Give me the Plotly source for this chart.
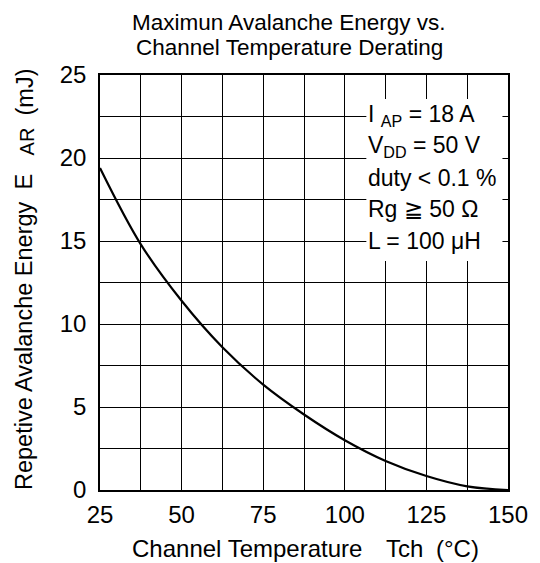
import plotly.graph_objects as go

# Data
tch = [25, 37.5, 50, 62.5, 75, 87.5, 100, 112.5, 125, 137.5, 150]
ear = [19.4, 14.8, 11.4, 8.6, 6.35, 4.55, 3.0, 1.75, 0.84, 0.22, 0.0]

x_tick_vals = [25, 50, 75, 100, 125, 150]
x_tick_labels = ["25", "50", "75", "100", "125", "150"]
y_tick_vals = [0, 5, 10, 15, 20, 25]
y_tick_labels = ["0", "5", "10", "15", "20", "25"]

title_lines = ["Maximun Avalanche Energy vs.", "Channel Temperature Derating"]
x_title_parts = ["Channel Temperature", "Tch", "(°C)"]
y_title_parts = ["Repetive Avalanche Energy", "E", "AR", "(mJ)"]
cond_lines = [
    "I\u00a0<sub>AP</sub> = 18 A",
    "V<sub>DD</sub> = 50 V",
    "duty < 0.1 %",
    "Rg \u2267 50 \u03a9",
    "L = 100 \u03bcH",
]

FONT = "Liberation Sans, Arial, sans-serif"

fig = go.Figure()
fig.add_trace(go.Scatter(
    x=tch, y=ear, mode="lines",
    line=dict(color="black", width=2.2, shape="spline", smoothing=1.0),
    hoverinfo="skip", showlegend=False,
))

W, H = 540, 563
L, R, T, B = 100, 24, 75, 73
pw, ph = W - L - R, H - T - B

def px_x(p):
    return (p - L) / pw

def px_y(p):
    return (H - B - p) / ph

axis_common = dict(
    showline=True, mirror=True, linecolor="black", linewidth=1.5,
    showgrid=True, gridcolor="black", gridwidth=1,
    zeroline=False, ticks="",
    tickfont=dict(family=FONT, size=24, color="black"),
)

fig.update_xaxes(
    range=[25, 150], tickmode="array", tickvals=x_tick_vals, ticktext=x_tick_labels,
    ticklabelstandoff=2,
    minor=dict(dtick=12.5, tick0=25, showgrid=True, gridcolor="black", gridwidth=1, ticks=""),
    **axis_common,
)
fig.update_yaxes(
    range=[0, 25], tickmode="array", tickvals=y_tick_vals, ticktext=y_tick_labels,
    ticklabelstandoff=7,
    minor=dict(dtick=2.5, tick0=0, showgrid=True, gridcolor="black", gridwidth=1, ticks=""),
    **axis_common,
)

# white block behind the condition text
fig.add_shape(type="rect", xref="x", yref="y", x0=106.6, x1=148.3, y0=13.8, y1=23.55,
              fillcolor="white", line=dict(width=0), layer="above")

def ann(text, x, y, size, angle=0, xanchor="center"):
    return dict(text=text, xref="paper", yref="paper", x=px_x(x), y=px_y(y),
                xanchor=xanchor, yanchor="middle", showarrow=False, textangle=angle,
                font=dict(family=FONT, size=size, color="black"))

annotations = []
for line, yc in zip(title_lines, [23, 47.5]):
    annotations.append(ann(line, 293, yc, 22.5))
for line, yc in zip(cond_lines, [115, 146.5, 178, 209, 241]):
    annotations.append(ann(line, 371, yc, 23, xanchor="left"))

# x-axis title pieces (centre x positions in pixels)
for part, xc in zip(x_title_parts, [250, 410, 464]):
    annotations.append(ann(part, xc, 548, 24))

# y-axis title pieces (rotated), centre positions in pixels
y_parts_pos = [(22.5, 345, 23.5), (22.5, 181.5, 23.5), (25.5, 141.5, 20), (23.5, 91.5, 23.5)]
for part, (xc, yc, sz) in zip(y_title_parts, y_parts_pos):
    annotations.append(ann(part, xc, yc, sz, angle=-90))

fig.update_layout(
    width=W, height=H, autosize=False,
    margin=dict(l=L, r=R, t=T, b=B, pad=0),
    paper_bgcolor="white", plot_bgcolor="white",
    annotations=annotations, showlegend=False,
)

fig.write_html(
    "out.html",
    config={"displayModeBar": False},
    post_script="document.body.style.margin='0';document.body.style.overflow='hidden';",
)
